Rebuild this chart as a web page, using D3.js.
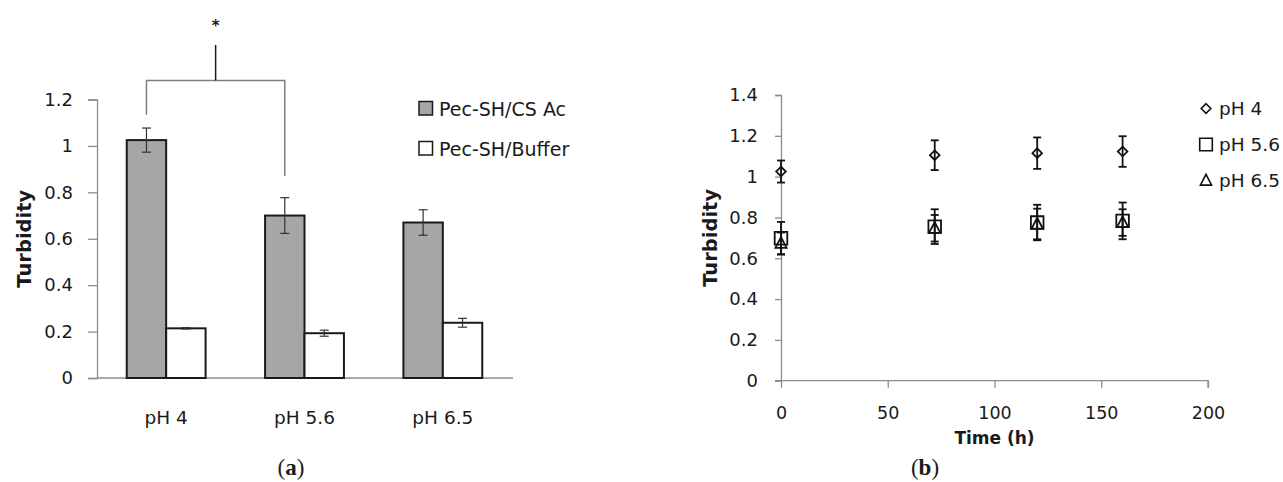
<!DOCTYPE html>
<html><head><meta charset="utf-8">
<script src="https://cdn.jsdelivr.net/npm/d3@7"></script>
<style>
body{margin:0;background:#fff;}
svg{display:block;}
text{font-family:"DejaVu Sans",sans-serif;fill:#1a1a1a;}
</style></head>
<body>
<svg id="c" width="1283" height="482"></svg>
<script>
// ---- Data: panel (a)
const categories = ["pH 4", "pH 5.6", "pH 6.5"];
const seriesNames = ["Pec-SH/CS Ac", "Pec-SH/Buffer"];
const csAcValues = [1.025, 0.70, 0.67];
const csAcErrors = [0.052, 0.077, 0.055];
const bufferValues = [0.214, 0.193, 0.238];
const bufferErrors = [0.003, 0.013, 0.019];
const yTicksA = [0, 0.2, 0.4, 0.6, 0.8, 1, 1.2];
// significance bracket levels (value units): left foot, right foot, bar, top, star baseline
const bracketLevels = [1.134, 0.87, 1.282, 1.435, 1.497];

// ---- Data: panel (b)
const times = [0, 72, 120, 160];
const pH4Values = [1.025, 1.105, 1.115, 1.123];
const pH4Errors = [0.054, 0.073, 0.077, 0.075];
const pH56Values = [0.698, 0.755, 0.775, 0.783];
const pH56Errors = [0.08, 0.085, 0.087, 0.09];
const pH65Values = [0.673, 0.747, 0.768, 0.775];
const pH65Errors = [0.053, 0.065, 0.075, 0.065];
const seriesB = ["pH 4", "pH 5.6", "pH 6.5"];
const yTicksB = [0, 0.2, 0.4, 0.6, 0.8, 1, 1.2, 1.4];
const xTicksB = [0, 50, 100, 150, 200];

const svg = d3.select("#c");
const axisColor = "#8c8c8c";

// ================= Panel (a)
const gA = svg.append("g");
const xA = d3.scaleBand().domain(categories).range([97, 512]).paddingInner(0.43).paddingOuter(0.215);
const xSub = d3.scaleBand().domain(seriesNames).range([0, xA.bandwidth()]);
const yA = d3.scaleLinear().domain([0, 1.2]).range([378, 99.5]);

// y axis
const yAxisA = gA.append("g").attr("transform", "translate(97,0)")
  .call(d3.axisLeft(yA).tickValues(yTicksA).tickSize(9).tickPadding(15).tickFormat(d3.format("~g")));
yAxisA.select(".domain").attr("stroke", axisColor).attr("stroke-width", 1.3);
yAxisA.selectAll(".tick line").attr("stroke", axisColor).attr("stroke-width", 1.3);
yAxisA.selectAll(".tick text").style("font-family", "DejaVu Sans").style("font-size", "18px").attr("fill", "#1a1a1a");

// x axis
const xAxisA = gA.append("g").attr("transform", "translate(0,378)")
  .call(d3.axisBottom(xA).tickSize(0).tickPadding(33));
xAxisA.select(".domain").attr("stroke", axisColor).attr("stroke-width", 1.3).attr("d", "M97,0H513");
xAxisA.selectAll(".tick text").style("font-family", "DejaVu Sans").style("font-size", "18.5px").attr("fill", "#1a1a1a");

const barRows = categories.map((c, i) => [
  {cat: c, s: seriesNames[0], v: csAcValues[i], e: csAcErrors[i], fill: "#a6a6a6"},
  {cat: c, s: seriesNames[1], v: bufferValues[i], e: bufferErrors[i], fill: "#ffffff"}
]).flat();

gA.selectAll("rect.bar").data(barRows).join("rect").attr("class", "bar")
  .attr("x", d => xA(d.cat) + xSub(d.s))
  .attr("width", xSub.bandwidth())
  .attr("y", d => yA(d.v))
  .attr("height", d => yA(0) - yA(d.v))
  .attr("fill", d => d.fill)
  .attr("stroke", "#1a1a1a").attr("stroke-width", 2);

// error bars
const ebA = gA.selectAll("g.eb").data(barRows).join("g").attr("class", "eb")
  .attr("stroke", "#333").attr("stroke-width", 1.2);
ebA.append("line")
  .attr("x1", d => xA(d.cat) + xSub(d.s) + xSub.bandwidth() / 2)
  .attr("x2", d => xA(d.cat) + xSub(d.s) + xSub.bandwidth() / 2)
  .attr("y1", d => yA(d.v + d.e)).attr("y2", d => yA(d.v - d.e));
[1, -1].forEach(sg => {
  ebA.append("line")
    .attr("x1", d => xA(d.cat) + xSub(d.s) + xSub.bandwidth() / 2 - 4.5)
    .attr("x2", d => xA(d.cat) + xSub(d.s) + xSub.bandwidth() / 2 + 4.5)
    .attr("y1", d => yA(d.v + sg * d.e)).attr("y2", d => yA(d.v + sg * d.e));
});

// significance bracket
const bxL = xA(categories[0]) + xSub(seriesNames[0]) + xSub.bandwidth() / 2;
const bxR = xA(categories[1]) + xSub(seriesNames[0]) + xSub.bandwidth() / 2;
const bxM = (bxL + bxR) / 2;
gA.append("path")
  .attr("d", `M${bxL},${yA(bracketLevels[0])}V${yA(bracketLevels[2])}H${bxR}V${yA(bracketLevels[1])}`)
  .attr("fill", "none").attr("stroke", "#7f7f7f").attr("stroke-width", 1.5);
gA.append("line").attr("x1", bxM).attr("x2", bxM)
  .attr("y1", yA(bracketLevels[2])).attr("y2", yA(bracketLevels[3]))
  .attr("stroke", "#1a1a1a").attr("stroke-width", 1.5);
gA.append("text").attr("x", bxM).attr("y", yA(bracketLevels[4]))
  .attr("text-anchor", "middle")
  .style("font-size", "15px").style("font-weight", "bold").text("*");

// axis title
gA.append("text").attr("transform", `translate(24,${(yA(0) + yA(1.2)) / 2}) rotate(-90)`)
  .attr("text-anchor", "middle").attr("dominant-baseline", "central")
  .style("font-size", "19.5px").style("font-weight", "bold").text("Turbidity");

// legend
const legA = gA.selectAll("g.leg").data(seriesNames).join("g").attr("class", "leg")
  .attr("transform", (d, i) => `translate(419,${108.5 + i * 40})`);
legA.append("rect").attr("x", 0).attr("y", -7).attr("width", 13.5).attr("height", 13.5)
  .attr("fill", (d, i) => i === 0 ? "#a6a6a6" : "#fff").attr("stroke", "#1a1a1a").attr("stroke-width", 1.5);
legA.append("text").attr("x", 20).attr("y", 0).attr("dominant-baseline", "central")
  .style("font-size", "19px").text(d => d);

// caption
const capA = gA.append("text").attr("x", 291).attr("y", 475).attr("text-anchor", "middle")
  .style("font-family", "Liberation Serif").style("font-size", "23px");
capA.append("tspan").text("(");
capA.append("tspan").style("font-weight", "bold").text("a");
capA.append("tspan").text(")");

// ================= Panel (b)
const gB = svg.append("g");
const xB = d3.scaleLinear().domain([0, 200]).range([781, 1208]);
const yB = d3.scaleLinear().domain([0, 1.4]).range([380.7, 95]);

const yAxisB = gB.append("g").attr("transform", "translate(781,0)")
  .call(d3.axisLeft(yB).tickValues(yTicksB).tickSize(6).tickPadding(17).tickFormat(d3.format("~g")));
yAxisB.select(".domain").attr("stroke", axisColor).attr("stroke-width", 1.3);
yAxisB.selectAll(".tick line").attr("stroke", axisColor).attr("stroke-width", 1.3);
yAxisB.selectAll(".tick text").style("font-family", "DejaVu Sans").style("font-size", "18px").attr("fill", "#1a1a1a");

const xAxisB = gB.append("g").attr("transform", "translate(0,380.7)")
  .call(d3.axisBottom(xB).tickValues(xTicksB).tickSize(7).tickPadding(19).tickSizeOuter(7));
xAxisB.select(".domain").attr("stroke", axisColor).attr("stroke-width", 1.3).attr("d", `M775,0H${xB(200)}V7`);
xAxisB.selectAll(".tick line").attr("stroke", axisColor).attr("stroke-width", 1.3);
xAxisB.selectAll(".tick text").style("font-family", "DejaVu Sans").style("font-size", "17.5px").attr("fill", "#1a1a1a");

gB.append("text").attr("x", xB(100)).attr("y", 438).attr("text-anchor", "middle").attr("dominant-baseline", "central")
  .style("font-size", "17px").style("font-weight", "bold").text("Time (h)");

gB.append("text").attr("transform", `translate(710,${(yB(0) + yB(1.4)) / 2}) rotate(-90)`)
  .attr("text-anchor", "middle").attr("dominant-baseline", "central")
  .style("font-size", "19.5px").style("font-weight", "bold").text("Turbidity");

const seriesDataB = [
  {name: seriesB[0], vals: pH4Values, errs: pH4Errors, sym: "diamond"},
  {name: seriesB[1], vals: pH56Values, errs: pH56Errors, sym: "square"},
  {name: seriesB[2], vals: pH65Values, errs: pH65Errors, sym: "triangle"}
];

function markerPath(sym) {
  if (sym === "diamond") return "M0,-4.8L4.8,0L0,4.8L-4.8,0Z";
  if (sym === "square") return "M-6.3,-6.3H6.3V6.3H-6.3Z";
  return "M0,-6.2L5.6,4.6H-5.6Z";
}

seriesDataB.forEach(s => {
  const pts = times.map((t, i) => ({t, v: s.vals[i], e: s.errs[i]}));
  const g = gB.append("g");
  const eb = g.selectAll("g.e").data(pts).join("g").attr("class", "e")
    .attr("stroke", "#111").attr("stroke-width", 1.8);
  eb.append("line").attr("x1", d => xB(d.t)).attr("x2", d => xB(d.t))
    .attr("y1", d => yB(d.v + d.e)).attr("y2", d => yB(d.v - d.e));
  [1, -1].forEach(sg => {
    eb.append("line").attr("x1", d => xB(d.t) - 4).attr("x2", d => xB(d.t) + 4)
      .attr("y1", d => yB(d.v + sg * d.e)).attr("y2", d => yB(d.v + sg * d.e));
  });
  g.selectAll("path.m").data(pts).join("path").attr("class", "m")
    .attr("transform", d => `translate(${xB(d.t)},${yB(d.v)})`)
    .attr("d", markerPath(s.sym))
    .attr("fill", "none").attr("stroke", "#111").attr("stroke-width", 1.8);
});

// legend b
const legB = gB.selectAll("g.legb").data(seriesDataB).join("g").attr("class", "legb")
  .attr("transform", (d, i) => `translate(1206,${108.5 + i * 36})`);
legB.append("path").attr("d", d => markerPath(d.sym))
  .attr("fill", "none").attr("stroke", "#111").attr("stroke-width", 1.6);
legB.append("text").attr("x", 13).attr("y", 0).attr("dominant-baseline", "central")
  .style("font-size", "18.5px").text(d => d.name);

const capB = gB.append("text").attr("x", 925).attr("y", 475).attr("text-anchor", "middle")
  .style("font-family", "Liberation Serif").style("font-size", "23px");
capB.append("tspan").text("(");
capB.append("tspan").style("font-weight", "bold").text("b");
capB.append("tspan").text(")");
</script>
</body></html>
